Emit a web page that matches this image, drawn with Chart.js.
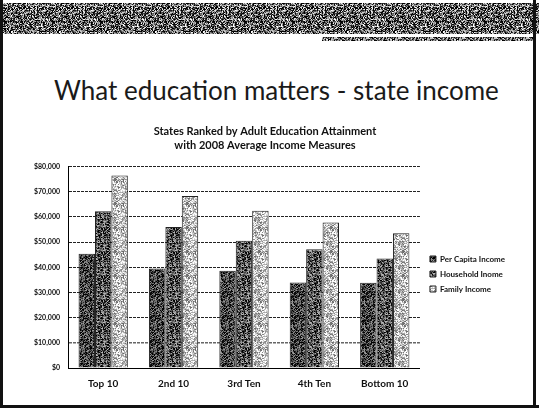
<!DOCTYPE html>
<html>
<head>
<meta charset="utf-8">
<script src="https://cdn.jsdelivr.net/npm/chart.js@4.4.1/dist/chart.umd.min.js"></script>
<style>
  body { margin:0; background:#fff; }
  #slide { position:relative; width:539px; height:408px; background:#fff; overflow:hidden; }
  #band { position:absolute; left:0; top:3px; width:539px; height:31px; }
  #band2 { position:absolute; left:322px; top:37px; width:214px; height:4px; }
  #edgeL { position:absolute; left:0; top:0; width:3px; height:408px; background:#111; }
  #edgeR { position:absolute; left:533px; top:0; width:3px; height:408px; background:#111; }
  #edgeB { position:absolute; left:0; top:405px; width:539px; height:3px; background:#111; }
  #heading { position:absolute; left:54px; top:74px; font-family:Lato, sans-serif; font-size:26px; color:#1a1a1a; white-space:nowrap; }
  #chart { position:absolute; left:18px; top:118px; }
</style>
</head>
<body>
<div id="slide">
  <div id="band"></div>
  <div id="band2"></div>
  <div id="edgeL"></div>
  <div id="edgeR"></div>
  <div id="edgeB"></div>
  <div id="heading">What education matters - state income</div>
  <canvas id="chart" width="500" height="277"></canvas>
</div>
<script>
  var categories = ['Top 10', '2nd 10', '3rd Ten', '4th Ten', 'Bottom 10'];
  var perCapita = [45400, 39500, 38600, 34000, 33900];
  var household = [62300, 56000, 50500, 47200, 43500];
  var family = [76500, 68300, 62500, 57800, 53500];
  var seriesNames = ['Per Capita Income', 'Household Inome', 'Family Income'];

  // speckled fill, like a photocopied halftone
  function grain(base, spread, seed, size) {
    var c = document.createElement('canvas');
    c.width = c.height = size || 24;
    var g = c.getContext('2d');
    var img = g.createImageData(c.width, c.height);
    for (var i = 0; i < c.width * c.height; i++) {
      var h = Math.sin(i * 12.9898 + seed * 78.233) * 43758.5453;
      h = h - Math.floor(h);
      var v = Math.max(0, Math.min(255, base + (h - 0.5) * spread));
      img.data[i*4] = img.data[i*4+1] = img.data[i*4+2] = v;
      img.data[i*4+3] = 255;
    }
    g.putImageData(img, 0, 0);
    return c;
  }

  document.getElementById('band').style.background = 'url(' + grain(95, 330, 3, 48).toDataURL() + ')';
  document.getElementById('band2').style.background = 'url(' + grain(90, 300, 9, 32).toDataURL() + ')';

  var ctx = document.getElementById('chart').getContext('2d');
  var fills = [
    ctx.createPattern(grain(62, 200, 1), 'repeat'),
    ctx.createPattern(grain(78, 220, 2), 'repeat'),
    ctx.createPattern(grain(188, 170, 5), 'repeat')
  ];

  // move the legend block a little down and right of where the layout puts it
  var legendNudge = {
    id: 'legendNudge',
    afterLayout: function (chart) {
      chart.legend.left += 3;
      chart.legend.top += 19;
      chart.legend.bottom += 19;
    }
  };

  var chart = new Chart(ctx, {
    type: 'bar',
    data: {
      labels: categories,
      datasets: [
        { label: seriesNames[0], data: perCapita, backgroundColor: fills[0] },
        { label: seriesNames[1], data: household, backgroundColor: fills[1] },
        { label: seriesNames[2], data: family, backgroundColor: fills[2] }
      ]
    },
    options: {
      responsive: false,
      animation: false,
      datasets: {
        bar: { categoryPercentage: 0.7, barPercentage: 1.0, borderColor: '#222', borderWidth: 1 }
      },
      layout: { padding: { left: 0, right: 6, top: 0, bottom: 3 } },
      plugins: {
        title: {
          display: true,
          text: ['States Ranked by Adult Education Attainment', 'with 2008 Average Income Measures'],
          color: '#111',
          font: { family: 'Lato', size: 11, weight: 'bold', lineHeight: 1.3 },
          padding: { top: 6, bottom: 14 }
        },
        legend: {
          position: 'right',
          labels: {
            boxWidth: 6, boxHeight: 6, padding: 7, color: '#111',
            font: { family: 'Lato', size: 8, weight: 'bold' }
          }
        },
        tooltip: { enabled: false }
      },
      scales: {
        x: {
          afterFit: function (s) { s.height = 24; },
          grid: { display: false, drawTicks: false },
          border: { color: '#000', width: 1 },
          ticks: { color: '#111', padding: 10, font: { family: 'Lato', size: 10, weight: 'bold' } }
        },
        y: {
          min: 0, max: 80000,
          afterFit: function (s) { s.width = 50; },
          ticks: {
            stepSize: 10000, color: '#111', padding: 8,
            font: { family: 'Lato', size: 7, weight: 'bold' },
            callback: function (v) { return '$' + v.toLocaleString('en-US'); }
          },
          grid: {
            drawTicks: false,
            color: function (c) { return c.tick && c.tick.value === 10000 ? '#666' : '#222'; },
            lineWidth: function (c) { return c.tick && c.tick.value === 10000 ? 1.5 : 1; }
          },
          border: { color: '#000', width: 1, dash: [3, 1] }
        }
      }
    },
    plugins: [legendNudge]
  });
</script>
</body>
</html>
